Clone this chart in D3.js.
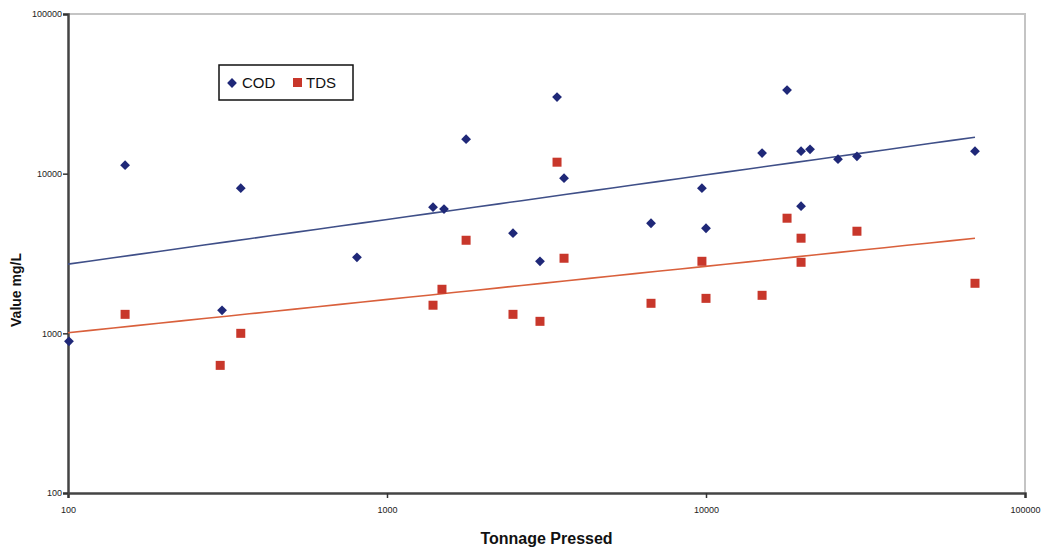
<!DOCTYPE html>
<html>
<head>
<meta charset="utf-8">
<script src="https://cdn.jsdelivr.net/npm/d3@7"></script>
<style>
  html, body { margin: 0; padding: 0; background: #fff; }
  svg { display: block; }
  text { font-family: "Liberation Sans", Arial, sans-serif; }
</style>
</head>
<body>
<svg id="chart" width="1041" height="547"></svg>
<script>
// Tonnage pressed (x) against measured COD / TDS (mg/L)
const codTonnage = [100.7, 151, 304, 348, 805, 1394, 1509, 1770, 2483, 3017, 3412, 3589, 6724, 9710, 10000, 14990, 17950, 19860, 19860, 21190, 25930, 29730, 69700];
const codValues  = [891, 11300, 1393, 8110, 2994, 6166, 6000, 16450, 4237, 2826, 30170, 9370, 4890, 8110, 4550, 13450, 33380, 6255, 13830, 14200, 12330, 12850, 13830];

const tdsTonnage = [151, 300, 348, 1394, 1487, 1770, 2483, 3017, 3412, 3589, 6724, 9710, 10000, 14990, 17950, 19860, 19860, 29730, 69700];
const tdsValues  = [1315, 630, 1000, 1500, 1888, 3828, 1315, 1189, 11800, 2953, 1542, 2826, 1656, 1730, 5260, 3943, 2786, 4360, 2058];

const xTicks = [100, 1000, 10000, 100000];
const yTicks = [100, 1000, 10000, 100000];
const seriesNames = ["COD", "TDS"];

const svg = d3.select("#chart");
const plot = { left: 68, right: 1025, top: 14, bottom: 493 };

const x = d3.scaleLog().domain([100, 100000]).range([plot.left, plot.right]);
const y = d3.scaleLog().domain([100, 100000]).range([plot.bottom, plot.top]);

// plot frame: light top and right edges
svg.append("path")
  .attr("d", `M${plot.left},${plot.top}H${plot.right}V${plot.bottom}`)
  .attr("fill", "none").attr("stroke", "#c4c4c4").attr("stroke-width", 2);

// axes
const xAxis = svg.append("g")
  .attr("transform", `translate(0,${plot.bottom})`)
  .call(d3.axisBottom(x).tickValues(xTicks).tickFormat(d3.format("d")).tickSize(5).tickPadding(9));
const yAxis = svg.append("g")
  .attr("transform", `translate(${plot.left},0)`)
  .call(d3.axisLeft(y).tickValues(yTicks).tickFormat(d3.format("d")).tickSize(5).tickPadding(1));

[xAxis, yAxis].forEach(g => {
  g.select(".domain").attr("stroke", "#444").attr("stroke-width", 2.5);
  g.selectAll(".tick line").attr("stroke", "#333").attr("stroke-width", 1.5);
  g.selectAll(".tick text").attr("fill", "#222").attr("font-size", 9)
    .attr("font-family", "Liberation Sans, Arial, sans-serif");
});

// power-law trend line, fitted in log-log space
function powerFit(xs, ys) {
  const lx = xs.map(Math.log10), ly = ys.map(Math.log10);
  const mx = d3.mean(lx), my = d3.mean(ly);
  let num = 0, den = 0;
  lx.forEach((v, i) => { num += (v - mx) * (ly[i] - my); den += (v - mx) ** 2; });
  const b = num / den, a = my - b * mx;
  return v => Math.pow(10, a + b * Math.log10(v));
}

const trendStart = 100;
const trendEnd = d3.max(codTonnage.concat(tdsTonnage));
const line = d3.line().x(d => x(d[0])).y(d => y(d[1]));

const codFit = powerFit(codTonnage, codValues);
const tdsFit = powerFit(tdsTonnage, tdsValues);

function trendPoints(f) {
  return d3.range(0, 41).map(i => {
    const t = Math.pow(10, Math.log10(trendStart) + i / 40 * (Math.log10(trendEnd) - Math.log10(trendStart)));
    return [t, f(t)];
  });
}

svg.append("path").datum(trendPoints(codFit)).attr("d", line)
  .attr("fill", "none").attr("stroke", "#3f4f88").attr("stroke-width", 1.6);
svg.append("path").datum(trendPoints(tdsFit)).attr("d", line)
  .attr("fill", "none").attr("stroke", "#d9603c").attr("stroke-width", 1.6);

// markers
const codColor = "#1f2878", tdsColor = "#c8372b";
const diamond = d3.symbol().type(d3.symbolSquare).size(48);

svg.append("g").selectAll("path")
  .data(codTonnage.map((t, i) => [t, codValues[i]]))
  .join("path")
  .attr("d", diamond)
  .attr("transform", d => `translate(${x(d[0])},${y(d[1])}) rotate(45)`)
  .attr("fill", codColor);

svg.append("g").selectAll("rect")
  .data(tdsTonnage.map((t, i) => [t, tdsValues[i]]))
  .join("rect")
  .attr("x", d => x(d[0]) - 4.5).attr("y", d => y(d[1]) - 4.5)
  .attr("width", 9).attr("height", 9)
  .attr("fill", tdsColor);

// legend
const legend = svg.append("g").attr("transform", "translate(219,65)");
legend.append("rect").attr("width", 134).attr("height", 35)
  .attr("fill", "#fff").attr("stroke", "#111").attr("stroke-width", 1.5);
legend.append("path").attr("d", diamond)
  .attr("transform", "translate(13,18) rotate(45)").attr("fill", codColor);
legend.append("text").attr("x", 23).attr("y", 23).attr("font-size", 15).attr("fill", "#111").text(seriesNames[0]);
legend.append("rect").attr("x", 74).attr("y", 13).attr("width", 9).attr("height", 9).attr("fill", tdsColor);
legend.append("text").attr("x", 87).attr("y", 23).attr("font-size", 15).attr("fill", "#111").text(seriesNames[1]);

// axis titles
svg.append("text")
  .attr("x", (plot.left + plot.right) / 2).attr("y", 544)
  .attr("text-anchor", "middle").attr("font-size", 16).attr("font-weight", "bold")
  .attr("fill", "#111").text("Tonnage Pressed");
svg.append("text")
  .attr("transform", "translate(21,290) rotate(-90)")
  .attr("text-anchor", "middle").attr("font-size", 14).attr("font-weight", "bold")
  .attr("fill", "#111").text("Value mg/L");
</script>
</body>
</html>
